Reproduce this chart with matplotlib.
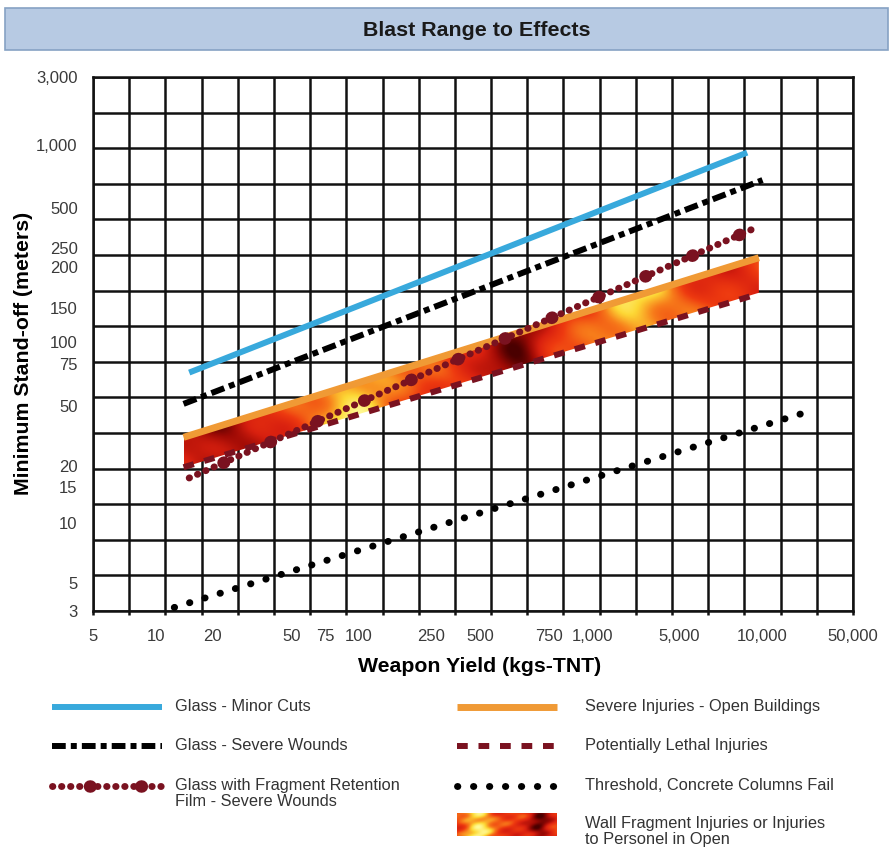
import numpy as np
import matplotlib
matplotlib.use("Agg")
import matplotlib.pyplot as plt
from matplotlib.colors import LinearSegmentedColormap
from matplotlib.patches import Polygon, Rectangle
from matplotlib.ticker import FixedLocator

plt.rcParams['font.family'] = ['Liberation Sans', 'DejaVu Sans']

# The original chart sits on an even grid with hand placed labels,
# so each axis maps tick values onto grid cells (piecewise log).
x_tick_values = [5, 10, 20, 50, 75, 100, 250, 500, 750, 1000, 5000, 10000, 50000]
x_tick_cells = [0, 1.74, 3.31, 5.5, 6.43, 7.35, 9.34, 10.7, 12.6, 13.8, 16.2, 18.5, 21]
y_tick_values = [3, 5, 10, 15, 20, 50, 75, 100, 150, 200, 250, 500, 1000, 3000]
y_tick_cells = [0, 0.79, 2.47, 3.48, 4.07, 5.76, 6.94, 7.56, 8.51, 9.66, 10.2, 11.32, 13.09, 15]

# Series: weapon yield (kg TNT) vs minimum stand-off (m)
glass_minor_yield = [15, 8800]
glass_minor_standoff = [69, 920]
glass_severe_yield = [14, 10000]
glass_severe_standoff = [51, 680]
frf_yield = [15, 9600]
frf_standoff = [17, 360]
open_bldg_yield = [14, 9700]
open_bldg_standoff = [31, 223]
lethal_yield = [14, 9500]
lethal_standoff = [19.7, 165]
columns_yield = [12.5, 21000]
columns_standoff = [3.2, 45]
wall_yield = [14, 9700]
wall_upper = [31, 223]
wall_lower = [19.7, 167]

BLUE = '#38a9dc'
ORANGE = '#f09a35'
MAROON = '#7a1220'
DARK = '#111111'
fire_cmap = LinearSegmentedColormap.from_list(
    'fire', ['#4a0000', '#9e0a05', '#d8200f', '#ee3a10', '#f77a1a', '#fdd835', '#fffb9a'])


def x_fwd(v):
    return np.interp(np.log10(np.clip(v, 1e-6, None)), np.log10(x_tick_values), x_tick_cells)


def x_inv(g):
    return 10 ** np.interp(g, x_tick_cells, np.log10(x_tick_values))


def y_fwd(v):
    return np.interp(np.log10(np.clip(v, 1e-6, None)), np.log10(y_tick_values), y_tick_cells)


def y_inv(g):
    return 10 ** np.interp(g, y_tick_cells, np.log10(y_tick_values))


def fire_texture(nx=300, ny=120):
    u, v = np.meshgrid(np.linspace(0, 1, nx), np.linspace(0, 1, ny))
    heat = (0.45 + 0.45 * np.exp(-((u - 0.3) / 0.07) ** 2)
            + 0.4 * np.exp(-((u - 0.78) / 0.07) ** 2)
            - 0.35 * np.exp(-((u - 0.585) / 0.05) ** 2)
            - 0.3 * np.exp(-((u - 0.05) / 0.07) ** 2))
    heat += 0.08 * np.sin(2 * np.pi * (3.3 * u + 1.7 * v) + 0.5)
    heat += 0.06 * np.sin(2 * np.pi * (5.9 * u - 3.1 * v) + 1.3)
    heat += 0.05 * np.sin(2 * np.pi * (8.7 * u + 4.3 * v) + 2.4)
    return np.clip(heat, 0, 1)


fig = plt.figure(figsize=(8.94, 8.5), dpi=100)
ax = fig.add_axes([93 / 894, 1 - 611 / 850, 760 / 894, 534 / 850])
ax.set_xscale('function', functions=(x_fwd, x_inv))
ax.set_yscale('function', functions=(y_fwd, y_inv))
ax.set_xlim(x_tick_values[0], x_tick_values[-1])
ax.set_ylim(y_tick_values[0], y_tick_values[-1])

# even grid
ax.xaxis.remove_overlapping_locs = False
ax.yaxis.remove_overlapping_locs = False
ax.xaxis.set_minor_locator(FixedLocator(x_inv(np.arange(22))))
ax.yaxis.set_minor_locator(FixedLocator(y_inv(np.arange(16))))
ax.grid(which='minor', color=DARK, lw=1.8)
ax.set_axisbelow(True)
ax.set_xticks(x_tick_values, [f'{v:,}' for v in x_tick_values])
ax.set_yticks(y_tick_values, [f'{v:,}' for v in y_tick_values])
ax.tick_params(which='major', length=0, labelsize=12, labelcolor='#3a3a3a')
ax.tick_params(axis='x', which='major', pad=13)
ax.tick_params(axis='y', which='major', pad=11)
ax.tick_params(axis='x', which='minor', length=3, width=1.8, color=DARK, direction='out')
ax.tick_params(axis='y', which='minor', length=0)
for s in ax.spines.values():
    s.set_color(DARK)
    s.set_linewidth(1.8)

ax.set_xlabel('Weapon Yield (kgs-TNT)', fontsize=15.3, fontweight='bold', va='top')
ax.xaxis.set_label_coords(0.509, -0.086)
ax.set_ylabel('Minimum Stand-off (meters)', fontsize=15.3, fontweight='bold')
ax.yaxis.set_label_coords(-0.079, 0.483)

# wall fragment band: texture clipped to the area between the two lines
to_axes = ax.transScale + ax.transLimits
corners = to_axes.transform(np.column_stack([wall_yield * 2, wall_upper + wall_lower]))
tex = fire_texture()
im = ax.imshow(tex, cmap=fire_cmap, vmin=0, vmax=1, aspect='auto', origin='lower',
               extent=(corners[:, 0].min(), corners[:, 0].max(),
                       corners[:, 1].min(), corners[:, 1].max()),
               transform=ax.transAxes, zorder=2, interpolation='bilinear')
band = Polygon(np.column_stack([wall_yield + wall_yield[::-1], wall_upper + wall_lower[::-1]]),
               closed=True, transform=ax.transData, facecolor='none', edgecolor='none')
ax.add_patch(band)
im.set_clip_path(band)
ax.set_xlim(x_tick_values[0], x_tick_values[-1])
ax.set_ylim(y_tick_values[0], y_tick_values[-1])

styles = {
    'minor': dict(color=BLUE, lw=4.3, solid_capstyle='butt'),
    'severe': dict(color='black', lw=4.3, linestyle=(0, (2.3, 0.85, 1.0, 0.85))),
    'open': dict(color=ORANGE, lw=5.0, solid_capstyle='butt'),
    'lethal': dict(color=MAROON, lw=4.3, linestyle=(0, (1.8, 1.8))),
    'columns': dict(color='black', lw=5.0, linestyle=(0, (0.05, 2.25)), dash_capstyle='round'),
    'frf_small': dict(color=MAROON, lw=5.0, linestyle=(0, (0.05, 1.25)), dash_capstyle='round'),
    'frf_big': dict(color=MAROON, lw=9.0, linestyle=(1.1, (0.05, 4.05)), dash_capstyle='round'),
}

ax.plot(glass_minor_yield, glass_minor_standoff, zorder=3, **styles['minor'])
ax.plot(glass_severe_yield, glass_severe_standoff, zorder=3, **styles['severe'])
ax.plot(open_bldg_yield, open_bldg_standoff, zorder=3, **styles['open'])
ax.plot(lethal_yield, lethal_standoff, zorder=3, **styles['lethal'])
ax.plot(frf_yield, frf_standoff, zorder=4, **styles['frf_small'])
ax.plot(frf_yield, frf_standoff, zorder=4, **styles['frf_big'])
ax.plot(columns_yield, columns_standoff, zorder=3, **styles['columns'])

# overlay in pixel units for the title box and the legend
lg = fig.add_axes([0, 0, 1, 1])
lg.set_xlim(0, 894)
lg.set_ylim(850, 0)
lg.axis('off')
lg.patch.set_visible(False)

lg.add_patch(Rectangle((5, 8), 883, 42, facecolor='#b7cae3', edgecolor='#86a2c4', lw=1.2))
lg.text(477, 30, 'Blast Range to Effects', ha='center', va='center',
        fontsize=15.4, fontweight='bold', color='#1a1a1a')

legend_left = [
    ('minor', 'Glass - Minor Cuts'),
    ('severe', 'Glass - Severe Wounds'),
    ('frf', 'Glass with Fragment Retention\nFilm - Severe Wounds'),
]
legend_right = [
    ('open', 'Severe Injuries - Open Buildings'),
    ('lethal', 'Potentially Lethal Injuries'),
    ('columns', 'Threshold, Concrete Columns Fail'),
    ('wall', 'Wall Fragment Injuries or Injuries\nto Personel in Open'),
]
row_y = [707, 746, 786, 824]


def legend_entry(key, label, x0, x1, xt, y):
    if key == 'wall':
        lg.imshow(tex[30:90, 60:200], cmap=fire_cmap, vmin=0, vmax=1, aspect='auto',
                  extent=(x0, x1, y + 12, y - 11), interpolation='bilinear')
    elif key == 'frf':
        lg.plot([x0, x1], [y, y], **styles['frf_small'])
        lg.plot([x0, x1], [y, y], **styles['frf_big'])
    else:
        lg.plot([x0, x1], [y, y], **styles[key])
    lg.text(xt, y - 8, label, ha='left', va='top', fontsize=11.8,
            color='#333333', linespacing=1.08)


for (key, label), y in zip(legend_left, row_y):
    legend_entry(key, label, 52, 162, 175, y)
for (key, label), y in zip(legend_right, row_y):
    legend_entry(key, label, 457, 557, 585, y)

lg.set_xlim(0, 894)
lg.set_ylim(850, 0)

fig.savefig('out.png', dpi=100, facecolor='white')
